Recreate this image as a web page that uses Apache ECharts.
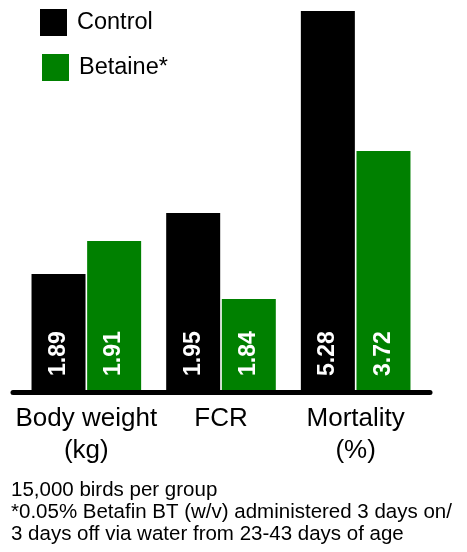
<!DOCTYPE html>
<html>
<head>
<meta charset="utf-8">
<script src="https://cdn.jsdelivr.net/npm/echarts@6/dist/echarts.min.js"></script>
<style>html,body{margin:0;padding:0;background:#fff}#c{width:467px;height:552px}</style>
</head>
<body>
<div id="c"></div>
<script>
// ---- data ----
const categories = ['Body weight\n(kg)', 'FCR', 'Mortality\n(%)'];
const seriesNames = ['Control', 'Betaine*'];
const controlValues = [1.89, 1.95, 5.28];
const betaineValues = [1.91, 1.84, 3.72];
// each group in the original is drawn on its own (truncated) value scale
const groupAxisMin = [1.8185, 1.7210, 1.0346];
const groupAxisMax = [2.0494, 2.2084, 5.28];
const footnoteLines = [
  '15,000 birds per group',
  '*0.05% Betafin BT (w/v) administered 3 days on/',
  '3 days off via water from 23-43 days of age'
];

// ---- styles ----
const FONT = 'Liberation Sans, Arial, sans-serif';
const colors = ['#000000', '#008000'];
const gridPos = { left: 19, width: 404, top: 11, bottom: 160 };

const grids = [], xAxes = [], yAxes = [], series = [];
categories.forEach((cat, i) => {
  grids.push(Object.assign({}, gridPos));
  xAxes.push({
    type: 'category', gridIndex: i, data: categories,
    axisLine: { show: false }, axisTick: { show: false },
    axisLabel: {
      show: i === 0, interval: 0, margin: 11, color: '#000',
      fontFamily: FONT, fontSize: 26, lineHeight: 32
    }
  });
  yAxes.push({
    type: 'value', gridIndex: i, show: false,
    min: groupAxisMin[i], max: groupAxisMax[i], splitLine: { show: false }
  });
  [controlValues, betaineValues].forEach((vals, s) => {
    series.push({
      type: 'bar', name: seriesNames[s], xAxisIndex: i, yAxisIndex: i,
      data: categories.map((_, j) => (j === i ? vals[j] : '-')),
      barWidth: 54, barGap: '3%',
      itemStyle: { color: colors[s] },
      label: {
        show: true, position: 'insideBottom', rotate: 90,
        align: 'left', verticalAlign: 'middle', distance: 16,
        color: '#fff', fontFamily: FONT, fontSize: 23, fontWeight: 'bold',
        formatter: p => p.value.toFixed(2)
      }
    });
  });
});

const chart = echarts.init(document.getElementById('c'), null, { renderer: 'canvas' });
chart.setOption({
  backgroundColor: '#fff',
  animation: false,
  color: colors,
  grid: grids, xAxis: xAxes, yAxis: yAxes, series: series,
  legend: [
    { data: [seriesNames[0]], left: 40, top: 9, padding: 0, orient: 'vertical', icon: 'rect',
      itemWidth: 27, itemHeight: 27, selectedMode: false,
      textStyle: { fontFamily: FONT, fontSize: 23.5, color: '#000', padding: [4, 0, 0, 5] } },
    { data: [seriesNames[1]], left: 42, top: 54, padding: 0, orient: 'vertical', icon: 'rect',
      itemWidth: 27, itemHeight: 27, selectedMode: false,
      textStyle: { fontFamily: FONT, fontSize: 23.5, color: '#000', padding: [4, 0, 0, 5] } }
  ],
  title: {
    text: footnoteLines.join('\n'), left: 11, top: 479, padding: 0,
    textStyle: { fontFamily: FONT, fontSize: 20.5, fontWeight: 'normal', lineHeight: 22, color: '#000' }
  },
  graphic: [{
    type: 'line', z: 100,
    shape: { x1: 13, y1: 392.5, x2: 430, y2: 392.5 },
    style: { stroke: '#000', lineWidth: 5, lineCap: 'round' }
  }]
});
</script>
</body>
</html>
